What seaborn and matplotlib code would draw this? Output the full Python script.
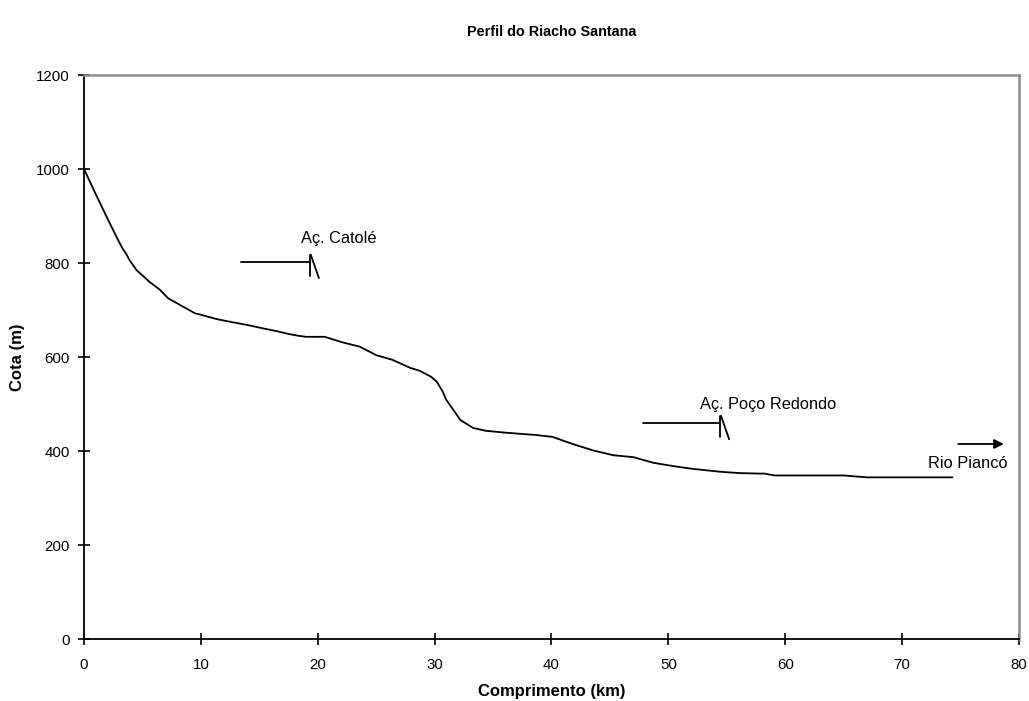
import matplotlib
matplotlib.use("Agg")
import matplotlib.pyplot as plt
import seaborn as sns
import pandas as pd

# Longitudinal profile of the stream: distance (km) vs elevation (m)
distancia_km = [0, 1, 2, 3, 3.3, 3.6, 3.9, 4.5, 5.6, 6.5, 7.2, 8.2, 9.5, 10, 11.3,
                12.5, 14.2, 15.5, 16.5, 17.5, 18.4, 19, 20.6, 22, 23.6, 25.0, 26.4,
                27.9, 28.7, 29.7, 30.2, 30.7, 31.0, 31.7, 32.2, 33.3, 34.4, 36.1,
                38.7, 40.1, 41.8, 43.6, 45.3, 47.0, 48.7, 50.4, 52.1, 54.4, 56.1,
                57.8, 58.2, 59.1, 65.0, 67.0, 74.3]
cota_m = [1000, 947, 895, 845, 831, 820, 806, 785, 760, 743, 725, 711, 693, 690, 681,
          675, 667, 660, 655, 649, 645, 643, 643, 632, 622, 604, 594,
          577, 571, 558, 547, 526, 509, 484, 466, 449, 443, 439,
          434, 430, 415, 401, 391, 387, 375, 368, 362, 356, 353,
          352, 352, 348, 348, 344, 344]

x_ticks = [0, 10, 20, 30, 40, 50, 60, 70, 80]
y_ticks = [0, 200, 400, 600, 800, 1000, 1200]

# Reservoir markers: (name, line start km, dam km, level m, label km, label m)
acudes = [
    ("Aç. Catolé", 13.4, 19.3, 803, 18.6, 853),
    ("Aç. Poço Redondo", 47.8, 54.4, 460, 52.7, 498),
]
# Outlet arrow towards the river
rio_nome = "Rio Piancó"
rio_seta_x = [74.8, 78.7]
rio_seta_y = 415
rio_texto = (79.0, 374)

sns.set_theme(style="white")
plt.rcParams["font.family"] = ["Liberation Sans", "DejaVu Sans"]
plt.rcParams.update({"text.color": "black", "axes.labelcolor": "black",
                     "xtick.color": "black", "ytick.color": "black"})

fig = plt.figure(figsize=(10.29, 7.01), dpi=100)
ax = fig.add_axes([0.0816, 0.0884, 0.9087, 0.8046])

df = pd.DataFrame({"km": distancia_km, "cota": cota_m})
sns.lineplot(data=df, x="km", y="cota", ax=ax, color="black", linewidth=1.3)

for nome, x0, xd, nivel, tx, ty in acudes:
    ax.plot([x0, xd], [nivel, nivel], color="black", lw=1.3)
    ax.plot([xd, xd], [nivel + 15, nivel - 30], color="black", lw=1.3)
    ax.plot([xd + 0.1, xd + 0.8], [nivel + 15, nivel - 35], color="black", lw=1.3)
    ax.text(tx, ty, nome, fontsize=11.8, ha="left", va="center", color="black")

ax.annotate("", xy=(rio_seta_x[1], rio_seta_y), xytext=(rio_seta_x[0], rio_seta_y),
            arrowprops=dict(arrowstyle="-|>", color="black", lw=1.3,
                            mutation_scale=14, shrinkA=0, shrinkB=0))
ax.text(rio_texto[0], rio_texto[1], rio_nome, fontsize=11.8, ha="right",
        va="center", color="black")

ax.set_xlim(0, 80)
ax.set_ylim(0, 1200)
ax.set_xticks(x_ticks)
ax.set_yticks(y_ticks)
ax.tick_params(axis="both", direction="inout", length=8, width=1.2,
               color="black", labelcolor="black", labelsize=10.8,
               left=True, bottom=True)
ax.tick_params(axis="x", pad=9.5)
ax.tick_params(axis="y", pad=6)

for side in ("left", "bottom"):
    ax.spines[side].set_color("black")
    ax.spines[side].set_linewidth(1.3)
for side in ("top", "right"):
    ax.spines[side].set_color("#8c8c8c")
    ax.spines[side].set_linewidth(1.8)

ax.set_xlabel("Comprimento (km)", fontsize=12, fontweight="bold", labelpad=9,
              color="black")
ax.set_ylabel("Cota (m)", fontsize=12, fontweight="bold", labelpad=8, color="black")
ax.set_title("Perfil do Riacho Santana", fontsize=10.4, fontweight="bold", pad=28,
             color="black")

fig.savefig("out.png", dpi=100, facecolor="white")
